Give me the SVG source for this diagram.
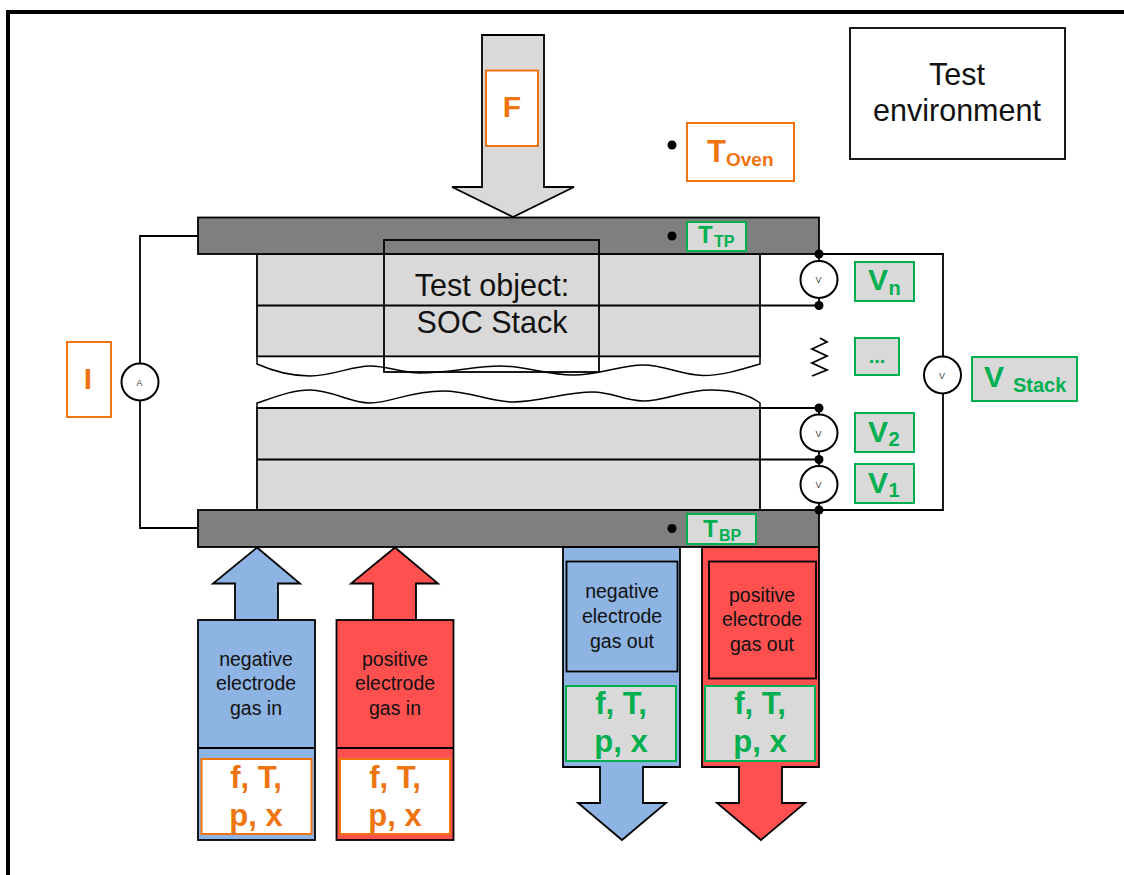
<svg xmlns="http://www.w3.org/2000/svg" width="1124" height="875" viewBox="0 0 1124 875">
<style>
text{font-family:"Liberation Sans",Arial,sans-serif;text-anchor:middle}
.k{fill:none;stroke:#000;stroke-width:1.8}
.w{fill:#fff;stroke:#000;stroke-width:1.5}
.s{stroke:#000;stroke-width:1.8}
.gr{fill:#d9d9d9}
.dg{fill:#7f7f7f}
.bl{fill:#8eb4e3}
.rd{fill:#ff5050}
.gb{fill:#d9d9d9;stroke:#00b050;stroke-width:2}
.ob{stroke:#ee7410;stroke-width:2}
.gt{fill:#00b050;font-weight:700}
.ot{fill:#ee7410;font-weight:700}
.st{text-anchor:start}
.bt{fill:#111}
.m{fill:#fff;stroke:#000;stroke-width:2}
.mt{font-size:9px;fill:#404040}
.g1{font-size:19.500px}
.g2{font-size:31px}
.h{font-size:30.500px}
</style>
<path d="M8 875V12H1124" fill="none" stroke="#000" stroke-width="4"/>
<g id="force"><path class="gr s" d="M482 35H544V187H574L513 217L452 187H482Z"/><rect x="486" y="70.500" width="52" height="75.500" fill="#fff" class="ob"/><text x="512" y="117" font-size="30" class="ot">F</text></g>
<g id="environment"><rect x="850" y="28" width="215" height="131" fill="#fff" class="s"/><text x="957" y="85" class="bt h">Test</text><text x="957" y="121" class="bt h">environment</text></g>
<g id="oven"><circle cx="672" cy="145" r="4.500"/><rect x="687" y="123" width="107" height="58" fill="#fff" class="ob"/><text x="707" y="162" font-size="31" class="ot st">T</text><text x="726" y="166" font-size="19" class="ot st">Oven</text></g>
<g id="stack">
<rect x="257" y="254" width="503" height="102.500" class="gr s"/>
<path class="w" d="M257 356.500V364C275 372 292 376 310 376C332 376 352 366 370 366C388 366 402 373 420 373C450 373 475 366 500 366C525 366 548 375 573 375C600 375 620 365 643 365C665 365 682 375.500 703 375.500C722 375.500 740 370 760 364V356.500Z"/>
<path class="w" d="M257 408V403C275 397 292 390 310 390C332 390 350 403 370 403C390 403 410 391 443 391C470 391 490 402 513 402C540 402 565 392 593 392C612 392 625 401 643 401C665 401 685 390 710 390C730 390 748 394 760 403V408Z"/>
<rect x="257" y="408" width="503" height="102" class="gr s"/>
<path class="k" d="M257 408H819M257 459.500H819M257 305.500H819"/>
</g>
<g id="top-plate"><rect x="198" y="217.500" width="621" height="36.500" class="dg s"/><circle cx="672" cy="236" r="4.500"/><rect x="687" y="222" width="59" height="29" class="gb"/><text x="698" y="243" font-size="24" class="gt st">T</text><text x="714" y="247" font-size="16" class="gt st">TP</text></g>
<g id="bottom-plate"><rect x="198" y="510" width="621" height="37" class="dg s"/><circle cx="672" cy="528.500" r="4.500"/><rect x="687" y="514" width="69" height="30" class="gb"/><text x="703" y="537" font-size="24" class="gt st">T</text><text x="719" y="541" font-size="16" class="gt st">BP</text></g>
<g id="test-object"><rect x="384" y="240" width="215" height="132" class="k"/><text x="492" y="296" class="bt h">Test object:</text><text x="492" y="333" class="bt h">SOC Stack</text></g>
<g id="connectors">
<path class="k" d="M198 236H140V528H198"/>
<path class="k" d="M819 254H943V510H819M819 254V305M819 408V510"/>
<path class="k" d="M820 338L827 342L812 349L827 356L812 363L827 370L812 376"/>
<g><circle cx="819" cy="254" r="4.500"/><circle cx="819" cy="305.500" r="4.500"/><circle cx="819" cy="408" r="4.500"/><circle cx="819" cy="459.500" r="4.500"/><circle cx="819" cy="510" r="4.500"/></g>
</g>
<g id="ammeter"><circle cx="140" cy="382" r="18.500" class="m"/><text x="139.500" y="385.500" class="mt">A</text></g>
<g id="vn"><circle cx="819" cy="279.500" r="18.500" class="m"/><text x="818.500" y="283" class="mt">V</text></g>
<g id="v2"><circle cx="819" cy="433" r="18.500" class="m"/><text x="818.500" y="436.500" class="mt">V</text></g>
<g id="v1"><circle cx="819" cy="484.500" r="18.500" class="m"/><text x="818.500" y="488" class="mt">V</text></g>
<g id="vstack"><circle cx="942.500" cy="375" r="18.500" class="m"/><text x="942" y="378.500" class="mt">V</text></g>
<g id="current"><rect x="67" y="342" width="44" height="75" fill="#fff" class="ob"/><text x="88" y="389" font-size="30" class="ot">I</text></g>
<g id="label-vn"><rect x="855" y="262" width="59" height="39" class="gb"/><text x="868" y="290" font-size="30" class="gt st">V</text><text x="888.500" y="295" font-size="20" class="gt st">n</text></g>
<g id="label-dots"><rect x="855" y="338" width="44" height="37" class="gb"/><text x="877" y="363" font-size="20" class="gt">...</text></g>
<g id="label-v2"><rect x="855" y="413" width="59" height="39" class="gb"/><text x="868" y="442" font-size="30" class="gt st">V</text><text x="888.500" y="446" font-size="20" class="gt st">2</text></g>
<g id="label-v1"><rect x="855" y="464" width="59" height="39" class="gb"/><text x="868" y="493" font-size="30" class="gt st">V</text><text x="888.500" y="497" font-size="20" class="gt st">1</text></g>
<g id="label-vstack"><rect x="972" y="357" width="105" height="44" class="gb"/><text x="984" y="387" font-size="30" class="gt st">V</text><text x="1013" y="392" font-size="20" class="gt st">Stack</text></g>
<g id="neg-in"><path class="bl s" d="M235 620V583.500H213L257 547.500L300 583.500H278V620Z"/><rect x="198" y="620" width="117" height="220" class="bl s"/><path class="k" d="M198 748H315"/><rect x="201.500" y="759" width="110" height="75" fill="#fff" class="ob"/>
<text x="256" y="666" class="bt g1">negative</text><text x="256" y="690" class="bt g1">electrode</text><text x="256" y="715" class="bt g1">gas in</text>
<text x="256" y="788" class="ot g2">f, T,</text><text x="256" y="826" class="ot g2">p, x</text></g>
<g id="pos-in"><path class="rd s" d="M373 620V583.500H351L395 547.500L438 583.500H416V620Z"/><rect x="336.500" y="620" width="117" height="220" class="rd s"/><path class="k" d="M336.500 748H453.500"/><rect x="340" y="759" width="110" height="75" fill="#fff" class="ob"/>
<text x="395" y="666" class="bt g1">positive</text><text x="395" y="690" class="bt g1">electrode</text><text x="395" y="715" class="bt g1">gas in</text>
<text x="395" y="788" class="ot g2">f, T,</text><text x="395" y="826" class="ot g2">p, x</text></g>
<g id="neg-out"><path class="bl s" d="M563 547H680V767H643V803H666L622 840L578 803H600V767H563Z"/><rect x="566.500" y="561.500" width="111" height="110" class="bl s"/><rect x="566" y="686" width="110" height="75" class="gb"/>
<text x="622" y="598" class="bt g1">negative</text><text x="622" y="623" class="bt g1">electrode</text><text x="622" y="648" class="bt g1">gas out</text>
<text x="621" y="714" class="gt g2">f, T,</text><text x="621" y="752" class="gt g2">p, x</text></g>
<g id="pos-out"><path class="rd s" d="M702 547H819V767H782V803H805L761 840L717 803H739V767H702Z"/><rect x="709" y="561.500" width="107" height="117" class="rd s"/><rect x="705" y="686" width="110" height="75" class="gb"/>
<text x="762" y="602" class="bt g1">positive</text><text x="762" y="626" class="bt g1">electrode</text><text x="762" y="651" class="bt g1">gas out</text>
<text x="760" y="714" class="gt g2">f, T,</text><text x="760" y="752" class="gt g2">p, x</text></g>
</svg>
